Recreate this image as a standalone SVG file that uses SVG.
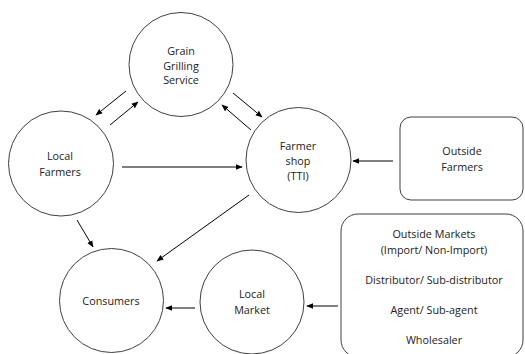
<svg xmlns="http://www.w3.org/2000/svg" width="525" height="354" viewBox="0 0 525 354">
<defs>
<marker id="ah" viewBox="0 0 10 10" refX="9" refY="5" markerWidth="7" markerHeight="7" markerUnits="userSpaceOnUse" orient="auto">
<path d="M0,1 L10,5 L0,9 z" fill="#000"/>
</marker>
<style>
.n{fill:#fff;stroke:#404040;stroke-width:1}
.t{font-family:"Open Sans","Noto Sans",sans-serif;font-size:10.8px;fill:#222;text-anchor:middle}
.c{stroke:#000;stroke-width:1;fill:none;marker-end:url(#ah)}
</style>
</defs>
<rect width="525" height="354" fill="#fff"/>
<g id="grain">
<circle class="n" cx="181" cy="64.5" r="52"/>
<text class="t" x="181" y="55">Grain</text>
<text class="t" x="181" y="69.5">Grilling</text>
<text class="t" x="181" y="84">Service</text>
</g>
<g id="local-farmers">
<circle class="n" cx="61" cy="163.5" r="52.5"/>
<text class="t" x="60" y="159.5">Local</text>
<text class="t" x="60" y="175.5">Farmers</text>
</g>
<g id="farmer-shop">
<circle class="n" cx="298.5" cy="160" r="52.5"/>
<text class="t" x="298" y="149.5">Farmer</text>
<text class="t" x="298" y="164.5">shop</text>
<text class="t" x="298" y="179.5">(TTI)</text>
</g>
<g id="outside-farmers">
<rect class="n" x="400" y="117" width="123" height="83" rx="11"/>
<text class="t" x="462" y="154.5">Outside</text>
<text class="t" x="462" y="170.5">Farmers</text>
</g>
<g id="consumers">
<circle class="n" cx="111.5" cy="300.5" r="52"/>
<text class="t" x="111" y="304.5">Consumers</text>
</g>
<g id="local-market">
<circle class="n" cx="252" cy="302" r="52"/>
<text class="t" x="252" y="297.5">Local</text>
<text class="t" x="252" y="313.5">Market</text>
</g>
<g id="outside-markets">
<rect class="n" x="341" y="214" width="182" height="143" rx="17"/>
<text class="t" x="434" y="237.5">Outside Markets</text>
<text class="t" x="434" y="253.5">(Import/ Non-Import)</text>
<text class="t" x="434" y="283.5">Distributor/ Sub-distributor</text>
<text class="t" x="434" y="313.5">Agent/ Sub-agent</text>
<text class="t" x="434" y="343.5">Wholesaler</text>
</g>
<g id="connectors">
<line class="c" x1="126" y1="91" x2="96" y2="115"/>
<line class="c" x1="110" y1="125" x2="138" y2="102"/>
<line class="c" x1="233" y1="93" x2="262" y2="117"/>
<line class="c" x1="251" y1="130" x2="222" y2="105"/>
<line class="c" x1="122" y1="167" x2="242" y2="167"/>
<line class="c" x1="393" y1="161" x2="353" y2="161"/>
<line class="c" x1="77" y1="220" x2="93" y2="247"/>
<line class="c" x1="249" y1="195" x2="157" y2="261"/>
<line class="c" x1="195" y1="308" x2="166" y2="308"/>
<line class="c" x1="338" y1="306" x2="307" y2="306"/>
</g>
</svg>
